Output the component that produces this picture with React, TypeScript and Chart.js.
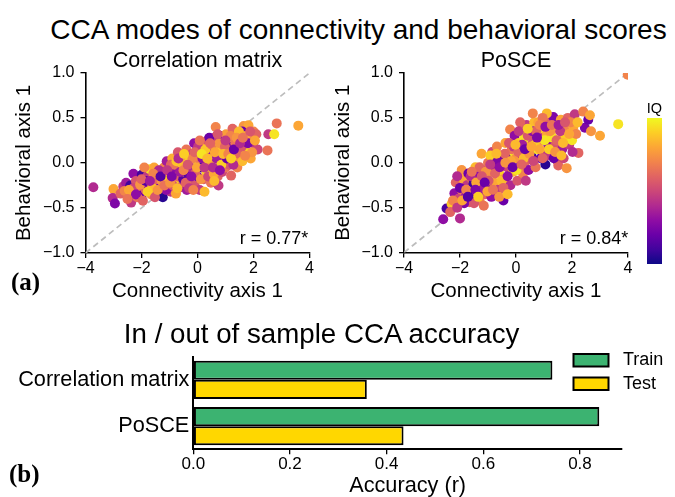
import React, { useEffect, useRef } from "react";
import { Chart, registerables } from "chart.js";
Chart.register(...registerables);

const SANS = "'Liberation Sans', Arial, Helvetica, sans-serif";
const SERIF = "'Liberation Serif', 'Times New Roman', serif";

// ---------- data ----------
const X_MIN = -4, X_MAX = 4, Y_MIN = -1, Y_MAX = 1;
const scatterXTicks = [-4, -2, 0, 2, 4];
const scatterYTicks = [-1.0, -0.5, 0.0, 0.5, 1.0];
const panelTitles = ["Correlation matrix", "PoSCE"];
const panelR = ["r = 0.77*", "r = 0.84*"];

// [connectivity axis 1, behavioral axis 1, IQ (normalised 0..1)]
const corrPoints: [number, number, number][] = [
  [-3.72,-0.27,0.4],[-3.0,-0.29,0.8],[-3.03,-0.39,0.4],[-2.95,-0.45,0.25],[-2.65,-0.26,0.45],[-2.75,-0.34,0.6],[-2.55,-0.22,0.35],[-2.6,-0.31,0.7],
  [-2.37,-0.44,0.45],[-2.29,-0.33,0.78],[-2.29,-0.12,0.3],[-2.4,-0.25,0.1],[-2.2,-0.2,0.55],[-2.1,-0.28,0.65],[-1.99,-0.13,0.1],[-2.0,-0.36,0.2],[-1.95,-0.22,0.5],[-1.85,-0.3,0.6],[-1.8,-0.15,0.45],[-1.7,-0.07,0.95],[-1.75,-0.25,0.3],[-1.65,-0.35,0.75],[-1.6,-0.18,0.55],[-1.55,-0.05,0.8],[-1.5,-0.28,0.4],[-2.15,-0.38,0.65],[-1.9,-0.05,0.7],
  [-1.45,-0.14,0.85],[-1.4,-0.22,0.25],[-1.35,-0.3,0.6],[-1.3,-0.28,0.2],[-1.24,-0.38,0.05],[-1.2,-0.05,0.7],[-1.15,-0.18,0.5],[-1.1,0.02,0.35],[-1.05,-0.25,0.8],[-1.0,-0.12,0.65],[-0.95,-0.32,0.45],[-0.9,0.05,0.82],[-0.85,-0.08,0.3],[-0.8,-0.2,0.9],[-0.77,-0.34,0.8],[-0.7,0.12,0.55],[-0.7,-0.15,0.6],[-0.65,-0.02,0.75],[-0.6,-0.27,0.5],[-0.55,0.06,0.4],[-0.51,-0.18,0.15],[-1.25,-0.1,0.45],[-0.95,-0.02,0.6],
  [-0.45,-0.1,0.8],[-0.4,0.15,0.65],[-0.38,-0.3,0.35],[-0.3,0.02,0.9],[-0.28,-0.2,0.7],[-0.2,0.1,0.5],[-0.15,-0.08,0.85],[-0.12,0.22,0.3],[-0.1,-0.25,0.55],[-0.05,0.04,0.95],[0.0,-0.15,0.2],[0.05,0.12,0.78],[0.08,-0.3,0.45],[0.1,0.02,0.65],[0.15,-0.05,0.1],[0.2,0.18,0.8],[0.22,-0.18,0.6],[0.3,0.08,0.4],[0.32,-0.1,0.9],[0.35,0.25,0.55],[0.4,-0.02,0.75],[0.45,0.12,0.3],[0.48,-0.22,0.65],[-0.35,-0.12,0.15],[0.25,-0.32,0.85],
  [0.55,0.05,0.8],[0.6,0.28,0.45],[0.62,-0.08,0.2],[0.7,0.15,0.9],[0.72,-0.15,0.6],[0.8,0.02,0.7],[0.82,0.3,0.15],[0.88,-0.1,0.5],[0.9,0.2,0.8],[0.95,0.08,0.35],[1.0,-0.05,0.65],[1.02,0.32,0.78],[1.08,0.12,0.4],[1.1,0.24,0.95],[1.15,0.26,0.95],[1.15,-0.02,0.55],[1.2,-0.14,0.6],[1.22,0.18,0.25],[1.3,0.05,0.75],[1.32,0.3,0.5],[1.38,0.15,0.85],[1.42,-0.05,0.7],[1.45,0.22,0.3],[0.65,0.4,0.7],[1.25,0.38,0.6],[0.75,-0.25,0.45],
  [1.5,0.1,0.6],[1.55,0.3,0.8],[1.6,0.02,0.85],[1.65,0.41,0.75],[1.7,0.2,0.45],[1.75,0.12,0.9],[1.82,0.42,0.8],[1.85,0.28,0.65],[1.9,0.05,0.8],[1.99,0.22,0.45],[2.0,0.35,0.7],[2.1,0.32,0.6],[2.15,0.15,0.5],[1.6,0.35,0.2],[1.95,0.12,0.75],
  [2.5,0.14,0.65],[2.53,0.32,0.45],[2.74,0.32,0.95],[2.83,0.44,0.65],[3.6,0.415,0.8],
  [-2.3,-0.28,0.5],[-2.05,-0.24,0.75],[-1.85,-0.2,0.15],[-1.62,-0.27,0.85],[-1.48,-0.18,0.6],[-1.38,-0.08,0.4],[-1.28,-0.2,0.75],[-1.12,-0.3,0.3],[-1.02,-0.18,0.9],[-0.88,-0.25,0.55],[-0.82,-0.02,0.65],[-0.62,-0.1,0.35],[-0.58,0.0,0.85],[-0.42,-0.22,0.6],[-0.25,-0.05,0.4],[-0.18,0.05,0.7],[-0.08,-0.12,0.6],[0.02,0.18,0.45],[0.12,-0.18,0.75],[0.18,0.05,0.3],[0.28,0.15,0.88],[0.38,-0.15,0.5],[0.52,0.2,0.65],[0.58,-0.12,0.8],[0.68,0.05,0.35],[0.78,0.22,0.75],[0.85,-0.02,0.9],[0.98,0.18,0.6],[1.05,0.05,0.2],[1.18,0.3,0.7],[1.28,-0.02,0.4],[1.35,0.22,0.65],[1.48,0.35,0.85],[1.58,0.18,0.55],[1.72,0.3,0.8],[1.8,0.22,0.25],[-0.3,-0.28,0.45],[0.42,0.28,0.2],[-0.75,0.02,0.88],[-1.58,-0.12,0.7],
  [-2.45,-0.3,0.8],[-2.2,-0.35,0.3],[-2.0,-0.18,0.6],[-1.78,-0.32,0.9],[-1.7,-0.2,0.35],[-1.52,-0.38,0.55],[-1.42,-0.3,0.75],[-1.32,-0.15,0.15],[-1.18,-0.25,0.65],[-1.08,-0.08,0.45],[-0.98,-0.22,0.75],[-0.92,-0.15,0.25],[-0.72,-0.28,0.85],[-0.68,0.05,0.4],[-0.5,-0.08,0.7],[-0.48,0.1,0.9],[-0.35,-0.02,0.55],[-0.22,-0.15,0.3],[-0.1,0.12,0.6],[-0.02,-0.05,0.8],[0.08,0.25,0.65],[0.15,0.1,0.95],[0.25,-0.05,0.45],[0.35,0.05,0.85],[0.45,0.22,0.6],[0.55,-0.05,0.4],[0.62,0.12,0.8],[0.72,0.32,0.55],[0.8,-0.08,0.3],[0.92,0.1,0.85],[1.0,0.25,0.45],[1.1,0.1,0.7],[1.2,0.05,0.9],[1.3,0.15,0.2],[1.4,0.28,0.75],[1.52,0.22,0.4],[1.62,0.28,0.65],[1.7,0.08,0.7],[1.88,0.35,0.55],[2.05,0.25,0.8],[-0.15,-0.3,0.7],[0.6,-0.2,0.85],[-1.95,-0.42,0.6],[-2.5,-0.4,0.65],
];

const poscePoints: [number, number, number][] = [
  [-2.6,-0.63,0.3],[-2.48,-0.51,0.12],[-2.3,-0.46,0.88],[-2.0,-0.62,0.4],[-2.2,-0.34,0.3],[-2.15,-0.22,0.6],[-2.05,-0.4,0.5],[-1.94,-0.08,0.75],[-1.95,-0.3,0.65],[-1.88,-0.18,0.8],[-1.8,-0.38,0.35],[-1.75,-0.25,0.45],[-1.7,-0.12,0.2],[-1.65,-0.44,0.6],[-1.6,-0.3,0.95],[-1.55,-0.2,0.7],[-1.52,-0.23,0.1],[-1.5,-0.37,0.1],[-2.1,-0.15,0.4],[-1.85,-0.45,0.25],
  [-1.45,-0.05,0.85],[-1.4,-0.32,0.55],[-1.35,-0.15,0.3],[-1.3,-0.42,0.7],[-1.25,-0.25,0.85],[-1.23,0.1,0.8],[-1.18,-0.08,0.45],[-1.1,-0.35,0.6],[-1.05,-0.18,0.95],[-1.0,0.0,0.65],[-0.95,-0.28,0.2],[-0.9,-0.1,0.75],[-0.85,0.12,0.5],[-0.81,0.06,0.1],[-0.78,-0.22,0.8],[-0.72,-0.05,0.35],[-0.68,0.18,0.7],[-0.62,-0.3,0.45],[-0.6,-0.12,0.9],[-0.55,0.08,0.6],[-1.15,-0.48,0.65],[-0.88,-0.38,0.3],
  [-0.5,0.02,0.05],[-0.45,-0.42,0.2],[-0.42,-0.18,0.75],[-0.38,0.22,0.8],[-0.32,-0.05,0.5],[-0.28,0.1,0.95],[-0.21,0.37,0.7],[-0.2,-0.25,0.4],[-0.15,0.15,0.65],[-0.1,-0.1,0.85],[-0.05,0.3,0.3],[0.0,0.05,0.75],[0.05,-0.2,0.55],[0.1,0.22,0.9],[0.12,-0.05,0.2],[0.18,0.35,0.8],[0.2,0.1,0.45],[0.25,-0.12,0.7],[0.3,0.28,0.95],[0.35,0.02,0.6],[0.38,0.42,0.45],[0.4,0.18,0.85],[0.45,-0.08,0.3],[-0.35,0.05,0.15],[0.15,0.45,0.6],
  [0.5,0.3,0.75],[0.55,0.08,0.1],[0.6,0.22,0.55],[0.65,0.45,0.85],[0.7,-0.05,0.65],[0.75,0.15,0.95],[0.8,0.45,0.8],[0.82,0.3,0.4],[0.88,0.05,0.2],[0.92,0.25,0.7],[0.98,0.38,0.9],[1.0,0.12,0.5],[1.05,-0.02,0.05],[1.1,0.32,0.8],[1.15,0.2,0.3],[1.2,0.45,0.6],[1.25,0.08,0.75],[1.3,0.28,0.95],[1.33,0.51,0.25],[1.38,0.18,0.55],[1.42,0.38,0.8],[1.48,0.02,0.45],[0.6,0.55,0.7],[1.1,0.55,0.85],
  [1.51,-0.03,0.6],[1.55,0.25,0.8],[1.6,0.48,0.8],[1.65,0.15,0.35],[1.72,0.38,0.7],[1.78,0.3,0.9],[1.81,-0.06,0.75],[1.85,0.5,0.6],[1.9,0.2,0.45],[2.0,0.25,0.95],[2.05,0.4,0.8],[2.1,0.54,0.45],[2.23,0.11,0.6],[1.7,0.05,0.5],[2.15,0.32,0.7],
  [2.4,0.57,0.7],[2.46,0.39,0.25],[2.58,0.48,0.2],[2.64,0.53,0.8],[2.68,0.35,0.75],[3.0,0.3,0.8],[3.65,0.43,0.95],[3.99,0.98,0.7],
  [-2.25,-0.42,0.7],[-2.0,-0.28,0.2],[-1.78,-0.3,0.7],[-1.62,-0.15,0.4],[-1.42,-0.22,0.8],[-1.3,-0.05,0.6],[-1.2,-0.3,0.35],[-1.08,-0.1,0.75],[-0.98,-0.2,0.55],[-0.92,0.08,0.9],[-0.75,-0.12,0.6],[-0.65,0.02,0.25],[-0.52,-0.2,0.85],[-0.4,0.1,0.6],[-0.3,-0.15,0.3],[-0.18,0.02,0.8],[-0.08,0.18,0.45],[0.02,-0.08,0.95],[0.08,0.12,0.6],[0.22,0.2,0.35],[0.28,0.05,0.85],[0.42,0.3,0.55],[0.48,0.1,0.75],[0.58,0.35,0.3],[0.68,0.2,0.9],[0.72,0.35,0.6],[0.85,0.15,0.8],[0.95,0.5,0.65],[1.02,0.25,0.95],[1.12,0.08,0.45],[1.22,0.35,0.75],[1.35,0.05,0.2],[1.45,0.25,0.6],[1.58,0.35,0.45],[1.68,0.22,0.85],[1.95,0.45,0.7],[-1.5,-0.45,0.55],[-0.6,-0.38,0.75],
  [-2.35,-0.55,0.6],[-2.1,-0.5,0.45],[-1.92,-0.42,0.8],[-1.72,-0.38,0.15],[-1.58,-0.1,0.65],[-1.45,-0.3,0.25],[-1.35,-0.38,0.9],[-1.22,-0.15,0.55],[-1.12,-0.22,0.2],[-1.02,-0.32,0.8],[-0.92,-0.02,0.45],[-0.82,-0.3,0.65],[-0.7,0.1,0.85],[-0.58,-0.05,0.3],[-0.45,-0.28,0.6],[-0.38,0.0,0.75],[-0.25,0.22,0.55],[-0.12,-0.05,0.2],[-0.02,0.2,0.85],[0.1,0.35,0.45],[0.2,-0.02,0.6],[0.32,0.15,0.2],[0.42,0.38,0.9],[0.55,0.18,0.8],[0.62,0.02,0.5],[0.75,0.28,0.25],[0.85,0.42,0.7],[0.95,0.05,0.6],[1.05,0.4,0.3],[1.18,0.15,0.9],[1.28,0.42,0.65],[1.4,0.12,0.75],[1.52,0.42,0.35],[1.62,0.08,0.85],[1.75,0.45,0.55],[1.9,0.32,0.8],[2.02,0.12,0.4],[2.2,0.45,0.85],[-0.3,-0.35,0.85],[0.35,-0.2,0.45],
];

const barCategories = ["Correlation matrix", "PoSCE"];
const trainAcc = [0.743, 0.840];
const testAcc = [0.359, 0.435];
const accTicks = [0.0, 0.2, 0.4, 0.6, 0.8];
const ACC_MAX = 0.887;
const seriesNames = ["Train", "Test"];

// ---------- colormap ----------
const plasmaStops = ["#0d0887","#41049d","#6a00a8","#8f0da4","#b12a90","#cc4778","#e16462","#f2844b","#fca636","#fcce25","#f0f921"];
function hexRgb(h: string) { return [1, 3, 5].map((i) => parseInt(h.slice(i, i + 2), 16)); }
function plasma(t: number) {
  const v = Math.max(0, Math.min(1, t)) * (plasmaStops.length - 1);
  const i = Math.min(Math.floor(v), plasmaStops.length - 2);
  const f = v - i;
  const a = hexRgb(plasmaStops[i]), b = hexRgb(plasmaStops[i + 1]);
  const c = a.map((x, k) => Math.round(x + (b[k] - x) * f));
  return `rgb(${c[0]},${c[1]},${c[2]})`;
}
const fmtMinus = (s: string) => s.replace("-", "\u2212");

// ---------- text ----------
function Txt(p: { x: number; y: number; size: number; text: string; align?: string; bold?: boolean; serif?: boolean }) {
  const asc = p.serif ? 0.8375 : 0.8465;
  const style: React.CSSProperties = {
    position: "absolute", top: p.y - asc * p.size, fontSize: p.size, lineHeight: `${p.size}px`,
    fontFamily: p.serif ? SERIF : SANS, fontWeight: p.bold ? 700 : 400, whiteSpace: "nowrap", color: "#000",
  };
  const align = p.align || "center";
  if (align === "center") { style.left = p.x - 400; style.width = 800; style.textAlign = "center"; }
  else if (align === "right") { style.left = p.x - 800; style.width = 800; style.textAlign = "right"; }
  else { style.left = p.x; }
  return <div style={style}>{p.text}</div>;
}

// ---------- scatter panel ----------
type Box = { left: number; top: number; w: number; h: number; padTop: number; padRight: number; yW: number; xH: number; yTitlePad: number };

function ScatterPanel({ points, box }: { points: [number, number, number][]; box: Box }) {
  const ref = useRef<HTMLCanvasElement>(null);
  useEffect(() => {
    const tickFont = { family: SANS, size: 16 };
    const titleFont = { family: SANS, size: 20.5 };
    const chart = new Chart(ref.current!, {
      type: "scatter",
      data: {
        datasets: [
          {
            type: "line",
            data: [{ x: X_MIN, y: Y_MIN }, { x: X_MAX, y: Y_MAX }],
            borderColor: "#bdbdbd", borderWidth: 1.7, borderDash: [6, 4], pointRadius: 0, order: 2,
          } as any,
          {
            type: "scatter",
            data: points.map((p) => ({ x: p[0], y: p[1] })),
            backgroundColor: points.map((p) => plasma(p[2])),
            pointRadius: 5, borderWidth: 0, order: 1,
          } as any,
        ],
      },
      options: {
        responsive: false, animation: false, events: [],
        layout: { padding: { left: 0, top: box.padTop, right: box.padRight, bottom: 0 } },
        plugins: { legend: { display: false }, tooltip: { enabled: false } },
        scales: {
          x: {
            type: "linear", min: X_MIN, max: X_MAX,
            afterBuildTicks: (s: any) => { s.ticks = scatterXTicks.map((v) => ({ value: v })); },
            afterFit: (s: any) => { s.height = box.xH; },
            grid: { display: true, drawOnChartArea: false, drawTicks: true, tickLength: 5, color: "#000", lineWidth: 1.3 },
            border: { display: true, color: "#000", width: 1.6 },
            ticks: { color: "#000", font: tickFont, padding: 1, maxRotation: 0, callback: (v: any) => fmtMinus(String(v)) },
            title: { display: true, text: "Connectivity axis 1", color: "#000", font: titleFont, padding: { top: 0, bottom: 6 } },
          },
          y: {
            type: "linear", min: Y_MIN, max: Y_MAX,
            afterBuildTicks: (s: any) => { s.ticks = scatterYTicks.map((v) => ({ value: v })); },
            afterFit: (s: any) => { s.width = box.yW; },
            grid: { display: true, drawOnChartArea: false, drawTicks: true, tickLength: 5, color: "#000", lineWidth: 1.3 },
            border: { display: true, color: "#000", width: 1.6 },
            ticks: { color: "#000", font: tickFont, padding: 6, callback: (v: any) => fmtMinus(Number(v).toFixed(1)) },
            title: { display: true, text: "Behavioral axis 1", color: "#000", font: titleFont, padding: { top: box.yTitlePad, bottom: 0 } },
          },
        },
      } as any,
    });
    return () => chart.destroy();
  }, []);
  return <canvas ref={ref} width={box.w} height={box.h} style={{ position: "absolute", left: box.left, top: box.top, width: box.w, height: box.h }} />;
}

// ---------- bar panel ----------
const barLegend = {
  id: "barLegend",
  afterDraw(chart: any) {
    const ctx = chart.ctx;
    ctx.save();
    chart.data.datasets.forEach((ds: any, i: number) => {
      const y = 34 + i * 23.5;
      ctx.fillStyle = ds.backgroundColor;
      ctx.fillRect(573.5, y, 35, 12.5);
      ctx.strokeStyle = "#000";
      ctx.lineWidth = 2;
      ctx.strokeRect(573.5, y, 35, 12.5);
      ctx.fillStyle = "#000";
      ctx.font = `18px ${SANS}`;
      ctx.textBaseline = "middle";
      ctx.textAlign = "left";
      ctx.fillText(ds.label, 623, y + 6.5);
    });
    ctx.restore();
  },
};

function BarPanel() {
  const ref = useRef<HTMLCanvasElement>(null);
  useEffect(() => {
    const chart = new Chart(ref.current!, {
      type: "bar",
      data: {
        labels: barCategories,
        datasets: [
          { label: seriesNames[0], data: trainAcc, backgroundColor: "#3cb371", borderColor: "#000", borderWidth: 2, borderSkipped: false, categoryPercentage: 0.83, barPercentage: 1 },
          { label: seriesNames[1], data: testAcc, backgroundColor: "#ffd700", borderColor: "#000", borderWidth: 2, borderSkipped: false, categoryPercentage: 0.83, barPercentage: 1 },
        ],
      },
      options: {
        indexAxis: "y", responsive: false, animation: false, events: [],
        layout: { padding: { left: 0, top: 36.7, right: 53, bottom: 0 } },
        plugins: { legend: { display: false }, tooltip: { enabled: false } },
        scales: {
          x: {
            type: "linear", min: 0, max: ACC_MAX,
            afterBuildTicks: (s: any) => { s.ticks = accTicks.map((v) => ({ value: v })); },
            afterFit: (s: any) => { s.height = 47.7; },
            grid: { display: true, drawOnChartArea: false, drawTicks: true, tickLength: 5, color: "#000", lineWidth: 1.3 },
            border: { display: true, color: "#000", width: 2 },
            ticks: { color: "#000", font: { family: SANS, size: 17 }, padding: 0, maxRotation: 0, callback: (v: any) => Number(v).toFixed(1) },
            title: { display: true, text: "Accuracy (r)", color: "#000", font: { family: SANS, size: 21.7, lineHeight: 1 }, padding: 0 },
          },
          y: {
            type: "category",
            afterFit: (s: any) => { s.width = 193.3; },
            grid: { display: false, drawTicks: false },
            border: { display: true, color: "#000", width: 2 },
            ticks: { color: "#000", font: { family: SANS, size: 21.7 }, padding: 4 },
          },
        },
      } as any,
      plugins: [barLegend],
    });
    return () => chart.destroy();
  }, []);
  return <canvas ref={ref} width={675} height={177} style={{ position: "absolute", left: 0, top: 320, width: 675, height: 177 }} />;
}

const leftBox: Box = { left: 0, top: 50, w: 335, h: 260, padTop: 23, padRight: 25.5, yW: 85.5, xH: 57, yTitlePad: 12.2 };
const rightBox: Box = { left: 330, top: 50, w: 345, h: 260, padTop: 23, padRight: 47, yW: 74, xH: 57.5, yTitlePad: 1.2 };

export default function App() {
  const grad = `linear-gradient(to top, ${plasmaStops.join(", ")})`;
  return (
    <div style={{ position: "absolute", left: 0, top: 0, width: 675, height: 497, overflow: "hidden", background: "#fff" }}>
      <ScatterPanel points={corrPoints} box={leftBox} />
      <ScatterPanel points={poscePoints} box={rightBox} />
      <BarPanel />
      <div style={{ position: "absolute", left: 647, top: 118, width: 15, height: 146, background: grad }} />
      <Txt x={358.5} y={39.5} size={28} text="CCA modes of connectivity and behavioral scores" />
      <Txt x={197.5} y={68} size={21.5} text={panelTitles[0]} />
      <Txt x={516} y={68.3} size={21.5} text={panelTitles[1]} />
      <Txt x={308.3} y={244.3} size={18} text={panelR[0]} align="right" />
      <Txt x={628.3} y={244} size={18} text={panelR[1]} align="right" />
      <Txt x={654.5} y={113} size={14.5} text="IQ" />
      <Txt x={11} y={290} size={25} text="(a)" align="left" bold serif />
      <Txt x={321.6} y={343.5} size={27.7} text="In / out of sample CCA accuracy" />
      <Txt x={9} y={482} size={25} text="(b)" align="left" bold serif />
    </div>
  );
}
